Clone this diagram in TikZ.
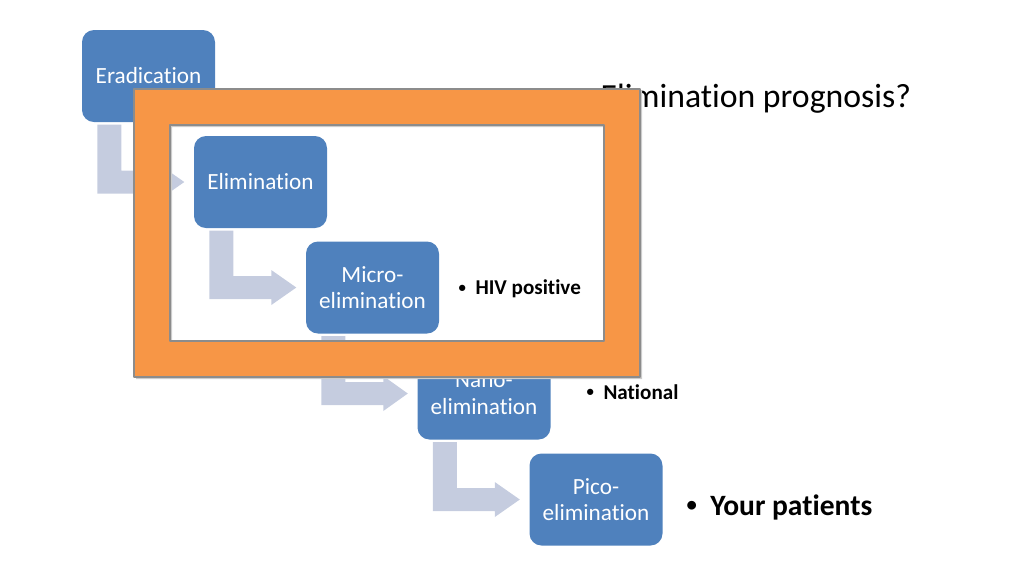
\documentclass[tikz,border=0pt]{standalone}
\usepackage{fontspec}
\setmainfont{Carlito}[Ligatures=NoCommon]
\usetikzlibrary{calc}
\definecolor{boxblue}{HTML}{4F81BD}
\definecolor{flowgray}{HTML}{C5CCDF}
\definecolor{frameorange}{HTML}{F79646}
\definecolor{framegray}{HTML}{8C8C8C}
\newcommand\bentarrow[2]{%
  \coordinate (t) at ($(#1.south west)+(0.16,-0.02)$);
  \coordinate (h) at ($(#2.west)+(-0.09,0)$);
  \coordinate (b) at ($(t |- h)+(0.62,0)$);
  \fill[flowgray] (t) -- ++(0.24,0) |- ($(b)+(0,0.115)$) -- ++(0,0.06) -- (h)
    -- ($(b)+(0,-0.175)$) -- ++(0,0.06) -| (t) -- cycle;
}
\newcommand\dotmark{\raisebox{0.12em}{\fontsize{0.7em}{1em}\selectfont•}\hspace{0.45em}}

\begin{document}
\begin{tikzpicture}[line cap=round,line join=round,
  stage/.style={fill=boxblue,rounded corners=0.12cm,minimum width=1.33cm,
    minimum height=0.92cm,inner sep=0pt,text=white,align=center,
    font=\fontsize{6.6}{7.6}\selectfont},
  item/.style={anchor=west,inner sep=0pt,font=\bfseries\fontsize{6}{7}\selectfont}]
  \useasboundingbox (0,0) rectangle (10.24,-5.76);
  \node[stage] (era) at (1.485,-0.76) {Eradication};
  \node[stage] (elim) at (2.605,-1.82) {Elimination};
  \node[stage] (micro) at (3.725,-2.875) {Micro-\\elimination};
  \node[stage] (nano) at (4.84,-3.935) {Nano-\\elimination};
  \node[stage] (pico) at (5.96,-4.995) {Pico-\\elimination};
  \bentarrow{era}{elim}
  \bentarrow{elim}{micro}
  \bentarrow{micro}{nano}
  \bentarrow{nano}{pico}
  \node[anchor=base west,inner sep=0pt,font=\fontsize{9.6}{11}\selectfont]
    (title) at (6.00,-1.07) {Elimination prognosis?};
  % frame on top
  \fill[black!20,even odd rule]
    (1.36,-0.91) rectangle (6.42,-3.79) (1.72,-1.27) rectangle (6.06,-3.43);
  \fill[frameorange,even odd rule,draw=framegray,line width=0.5pt]
    (1.34,-0.89) rectangle (6.40,-3.77) (1.70,-1.25) rectangle (6.04,-3.41);
  \node[item] (hiv) at (4.58,-2.89) {\dotmark HIV positive};
  \node[item] (nat) at (5.86,-3.92) {\dotmark National};
  \node[item,font=\bfseries\fontsize{8.4}{10}\selectfont] (you) at (6.86,-5.07) {\dotmark Your patients};
\end{tikzpicture}
\end{document}
